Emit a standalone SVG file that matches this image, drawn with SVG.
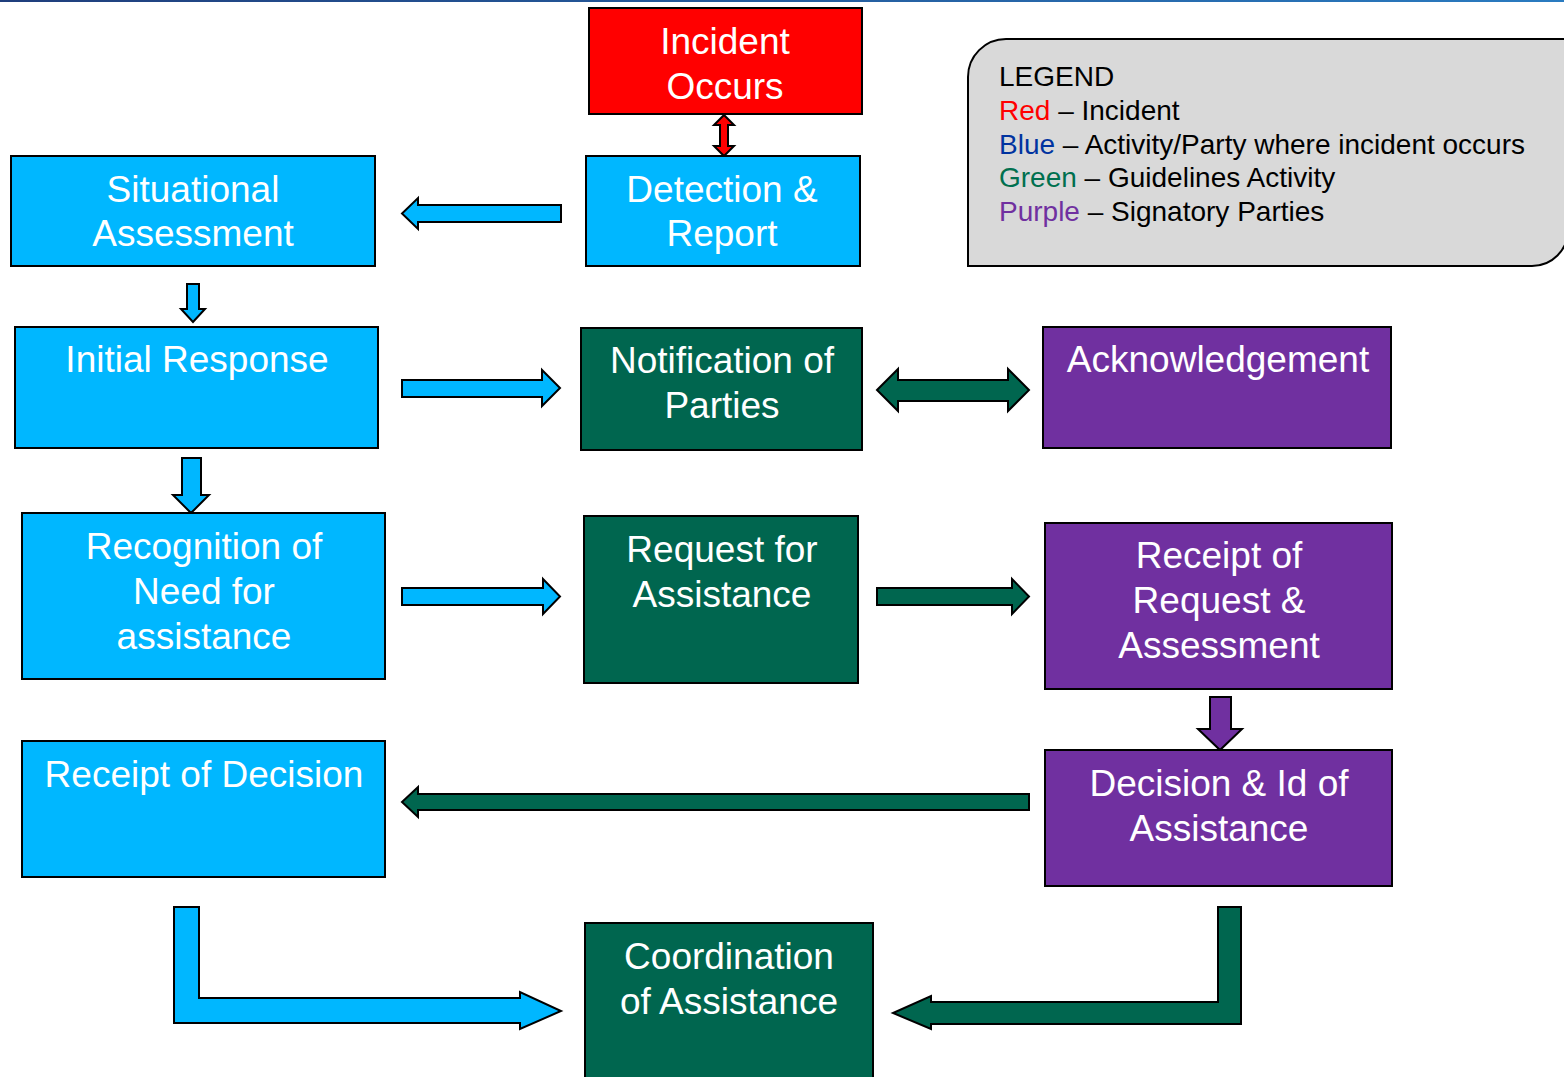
<svg xmlns="http://www.w3.org/2000/svg" width="1564" height="1077" viewBox="0 0 1564 1077">
<defs>
<linearGradient id="topline" x1="0" y1="0" x2="1" y2="0">
<stop offset="0" stop-color="#1F3E7C"/>
<stop offset="1" stop-color="#2A7BC0"/>
</linearGradient>
</defs>
<style>
.box{stroke:#000;stroke-width:2}
.red{fill:#FF0000}
.blue{fill:#00B7FF}
.green{fill:#00664F}
.purple{fill:#7030A0}
.arr{stroke:#000;stroke-width:2;stroke-linejoin:miter}
.t{font-family:"Liberation Sans",Arial,sans-serif;font-size:37px;fill:#fff;text-anchor:middle}
.lg{font-family:"Liberation Sans",Arial,sans-serif;font-size:28px;fill:#000}
</style>
<rect x="0" y="0" width="1564" height="2" fill="url(#topline)"/>

<g id="legend">
<path d="M1006,39 H1568 V230 A36,36 0 0 1 1532,266 H968 V77 A38,38 0 0 1 1006,39 Z" fill="#D9D9D9" stroke="#000" stroke-width="2"/>
<text class="lg" x="999" y="86">LEGEND</text>
<text class="lg" x="999" y="120"><tspan fill="#FF0000">Red</tspan> – Incident</text>
<text class="lg" x="999" y="154"><tspan fill="#0033A0">Blue</tspan> – Activity/Party where incident occurs</text>
<text class="lg" x="999" y="187"><tspan fill="#00704F">Green</tspan> – Guidelines Activity</text>
<text class="lg" x="999" y="221"><tspan fill="#7030A0">Purple</tspan> – Signatory Parties</text>
</g>

<g id="connectors">
<path class="arr red" d="M724,115 L734,125 H728 V146 H734 L724,156 L714,146 H720 V125 H714 Z"/>
<path class="arr blue" d="M561,205 V222 H418 V229 L402,213.5 L418,198 V205 Z"/>
<path class="arr blue" d="M187,284 H199 V309 H205 L193,322 L181,309 H187 Z"/>
<path class="arr blue" d="M182,458 H201 V495 H209 L191,513 L173,495 H182 Z"/>
<path class="arr blue" d="M402,380 H542 V370 L560,388 L542,406 V397 H402 Z"/>
<path class="arr green" d="M877,390 L898,369 V380 H1008 V369 L1029,390 L1008,411 V401 H898 V411 Z"/>
<path class="arr blue" d="M402,588 H543 V579 L560,596.5 L543,614 V605 H402 Z"/>
<path class="arr green" d="M877,588 H1012 V579 L1029,596.5 L1012,614 V605 H877 Z"/>
<path class="arr purple" d="M1210,697 H1231 V729 H1242 L1220,750 L1198,729 H1210 Z"/>
<path class="arr green" d="M1029,794 V810 H418 V817 L402,802 L418,787 V794 Z"/>
<path class="arr blue" d="M174,907 H199 V998 H520 V992 L561,1011 L520,1029 V1023 H174 Z"/>
<path class="arr green" d="M1241,907 H1218 V1002 H931 V996 L893,1013 L931,1029 V1024 H1241 Z"/>
</g>

<g id="incident">
<rect class="box red" x="589" y="8" width="273" height="106"/>
<text class="t" x="725" y="54">Incident</text>
<text class="t" x="725" y="99">Occurs</text>
</g>
<g id="detection">
<rect class="box blue" x="586" y="156" width="274" height="110"/>
<text class="t" x="722" y="202">Detection &amp;</text>
<text class="t" x="722" y="246">Report</text>
</g>
<g id="situational">
<rect class="box blue" x="11" y="156" width="364" height="110"/>
<text class="t" x="193" y="202">Situational</text>
<text class="t" x="193" y="246">Assessment</text>
</g>
<g id="initial">
<rect class="box blue" x="15" y="327" width="363" height="121"/>
<text class="t" x="197" y="372">Initial Response</text>
</g>
<g id="notification">
<rect class="box green" x="581" y="328" width="281" height="122"/>
<text class="t" x="722" y="373">Notification of</text>
<text class="t" x="722" y="418">Parties</text>
</g>
<g id="acknowledgement">
<rect class="box purple" x="1043" y="327" width="348" height="121"/>
<text class="t" x="1218" y="372">Acknowledgement</text>
</g>
<g id="recognition">
<rect class="box blue" x="22" y="513" width="363" height="166"/>
<text class="t" x="204" y="559">Recognition of</text>
<text class="t" x="204" y="604">Need for</text>
<text class="t" x="204" y="649">assistance</text>
</g>
<g id="request">
<rect class="box green" x="584" y="516" width="274" height="167"/>
<text class="t" x="722" y="562">Request for</text>
<text class="t" x="722" y="607">Assistance</text>
</g>
<g id="receipt-request">
<rect class="box purple" x="1045" y="523" width="347" height="166"/>
<text class="t" x="1219" y="568">Receipt of</text>
<text class="t" x="1219" y="613">Request &amp;</text>
<text class="t" x="1219" y="658">Assessment</text>
</g>
<g id="receipt-decision">
<rect class="box blue" x="22" y="741" width="363" height="136"/>
<text class="t" x="204" y="787">Receipt of Decision</text>
</g>
<g id="decision">
<rect class="box purple" x="1045" y="750" width="347" height="136"/>
<text class="t" x="1219" y="796">Decision &amp; Id of</text>
<text class="t" x="1219" y="841">Assistance</text>
</g>
<g id="coordination">
<rect class="box green" x="585" y="923" width="288" height="160"/>
<text class="t" x="729" y="969">Coordination</text>
<text class="t" x="729" y="1014">of Assistance</text>
</g>
</svg>
